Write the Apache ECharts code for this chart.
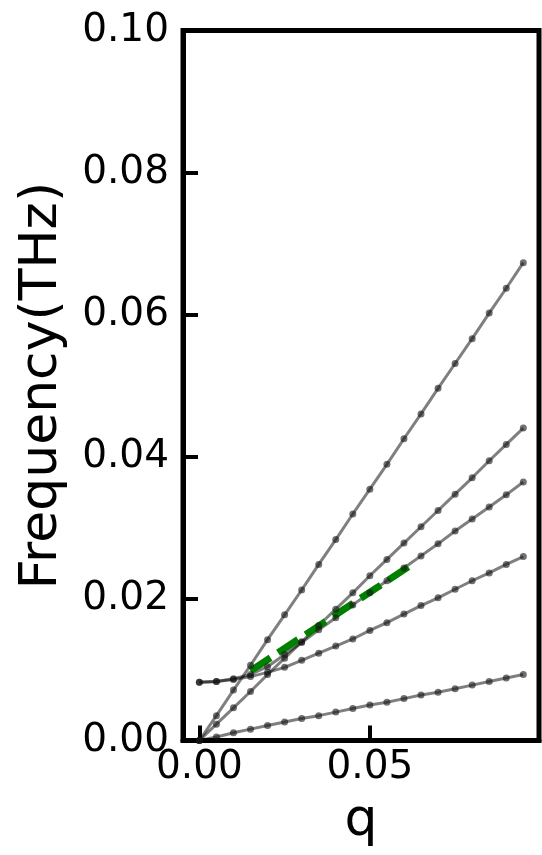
<!DOCTYPE html>
<html>
<head>
<meta charset="utf-8">
<script src="https://cdn.jsdelivr.net/npm/echarts@6/dist/echarts.min.js"></script>
<style>html,body{margin:0;padding:0;background:#fff;}#c{width:542px;height:855px;}</style>
</head>
<body>
<div id="c"></div>
<script>
// q values (x)
const qValues = [0,0.005,0.01,0.015,0.02,0.025,0.03,0.035,0.04,0.045,0.05,0.055,0.06,0.065,0.07,0.075,0.08,0.085,0.09,0.095];
// Frequency branches (THz)
const branchA = [0,0.0035,0.0071,0.0106,0.0142,0.0177,0.0212,0.0248,0.0283,0.0319,0.0354,0.0389,0.0425,0.0460,0.0496,0.0531,0.0566,0.0602,0.0637,0.0673];
const branchB = [0,0.0023,0.0046,0.0069,0.0093,0.0116,0.0139,0.0162,0.0185,0.0208,0.0232,0.0255,0.0278,0.0301,0.0324,0.0347,0.0370,0.0394,0.0417,0.0440];
const branchC = [0.0082,0.0083,0.0087,0.0093,0.0104,0.0121,0.0138,0.0156,0.0173,0.0191,0.0208,0.0225,0.0243,0.0260,0.0277,0.0295,0.0312,0.0329,0.0346,0.0364];
const branchD = [0.0082,0.0083,0.0086,0.0090,0.0096,0.0103,0.0113,0.0123,0.0133,0.0143,0.0155,0.0166,0.0178,0.0190,0.0201,0.0213,0.0225,0.0236,0.0248,0.0259];
const branchE = [0,0.0005,0.0011,0.0016,0.0021,0.0026,0.0031,0.0035,0.0040,0.0045,0.0050,0.0054,0.0059,0.0064,0.0068,0.0073,0.0078,0.0083,0.0088,0.0093];
// Green dashed fit line endpoints
const fitQ = [0.015, 0.063];
const fitF = [0.0098, 0.0250];
// Tick labels
const xTicks = [0, 0.05];

const branches = [branchA, branchB, branchC, branchD, branchE];
const pair = (xs, ys) => xs.map((x, i) => [x, ys[i]]);

const series = [];
branches.forEach(b => {
  series.push({
    type: 'line', data: pair(qValues, b), showSymbol: false, z: 2,
    lineStyle: { color: 'rgba(0,0,0,0.5)', width: 3 }, animation: false, silent: true
  });
});
series.push({
  type: 'line', data: pair(fitQ, fitF), showSymbol: false, z: 3,
  lineStyle: { color: '#008000', width: 7, type: [24, 9] }, animation: false, silent: true
});
branches.forEach(b => {
  series.push({
    type: 'scatter', data: pair(qValues, b), symbol: 'circle', symbolSize: 7, z: 4,
    itemStyle: { color: 'rgba(20,20,20,0.75)' }, animation: false, silent: true
  });
});

const font = 'DejaVu Sans';
const chart = echarts.init(document.getElementById('c'));
chart.setOption({
  animation: false,
  grid: { left: 183, right: 3, top: 30.5, bottom: 114.5, show: true, borderColor: '#000', borderWidth: 5, backgroundColor: 'transparent' },
  xAxis: {
    type: 'value', min: -0.0048, max: 0.0996,
    name: 'q', nameLocation: 'middle', nameGap: 55,
    nameTextStyle: { fontFamily: font, fontSize: 52, color: '#000' },
    axisLine: { show: true, onZero: false, lineStyle: { color: '#000', width: 5 } },
    splitLine: { show: false },
    axisTick: { show: true, inside: true, length: 15, customValues: xTicks, lineStyle: { color: '#000', width: 4 } },
    axisLabel: { show: true, customValues: xTicks, margin: 8, fontFamily: font, fontSize: 39, color: '#000', formatter: v => v.toFixed(2) }
  },
  yAxis: {
    type: 'value', min: 0, max: 0.1, interval: 0.02,
    name: 'Frequency(THz)', nameLocation: 'middle', nameGap: 115, nameRotate: 90,
    nameTextStyle: { fontFamily: font, fontSize: 52, color: '#000' },
    axisLine: { show: true, onZero: false, lineStyle: { color: '#000', width: 5 } },
    splitLine: { show: false },
    axisTick: { show: true, inside: true, length: 15, lineStyle: { color: '#000', width: 4 } },
    axisLabel: { show: true, margin: 14, fontFamily: font, fontSize: 39, color: '#000', formatter: v => v.toFixed(2) }
  },
  series: series
});
</script>
</body>
</html>
